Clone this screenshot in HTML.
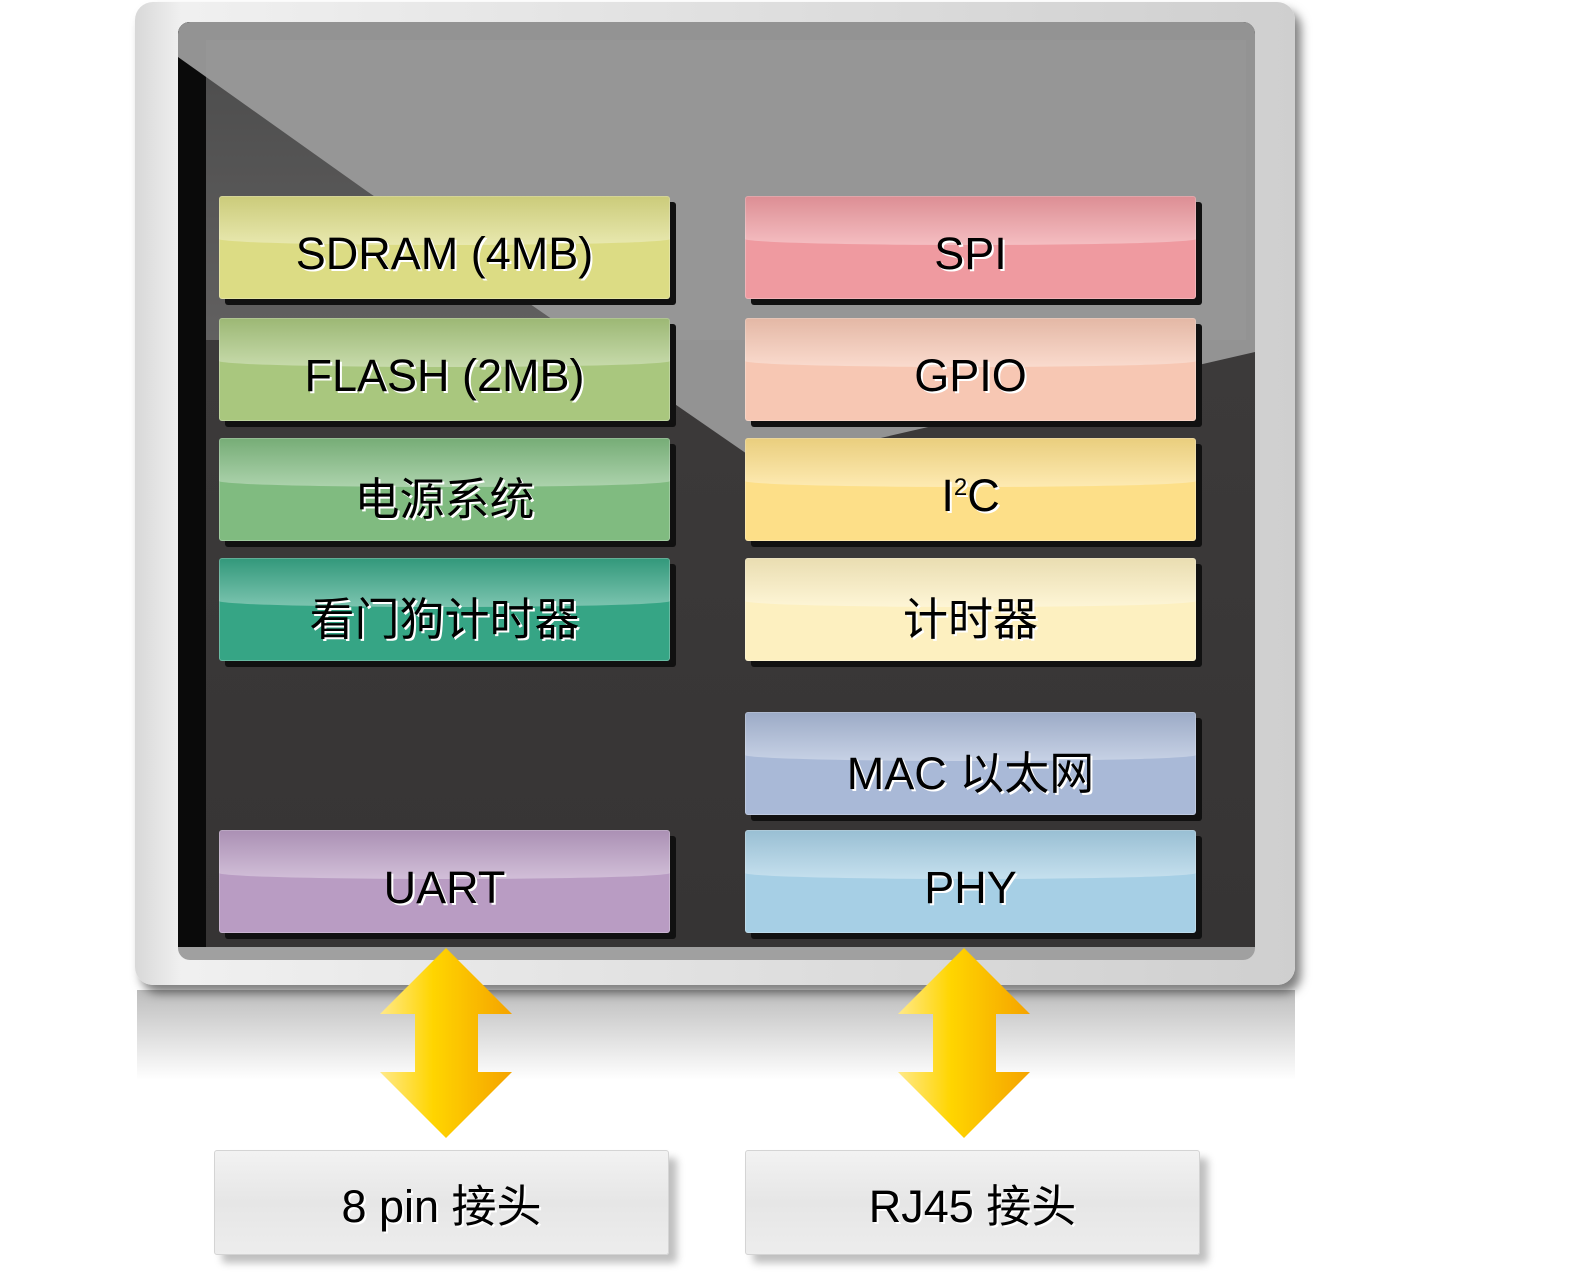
<!DOCTYPE html>
<html><head><meta charset="utf-8"><style>
body{margin:0;width:1586px;height:1288px;background:#fff;position:relative;overflow:hidden;font-family:"Liberation Sans","Noto Sans CJK SC",sans-serif}
.a{position:absolute}
.bx{position:absolute;height:103px;width:451px;border-radius:3px;box-shadow:6px 6px 0 #111,0 0 0 1px rgba(255,255,255,.25) inset;display:flex;align-items:center;justify-content:center;font-size:45px;color:#000;text-shadow:2px 2px 0 #fff;overflow:hidden}
.bx::before{content:"";position:absolute;left:0;right:0;top:0;height:48%;background:linear-gradient(rgba(0,0,0,.08),rgba(255,255,255,.35));border-bottom-left-radius:50% 6px;border-bottom-right-radius:50% 6px}
.bx span{position:relative;top:6px}
.cn{position:absolute;width:453px;height:103px;background:linear-gradient(#f2f2f2,#e6e6e6 50%,#ededed);border:1px solid #d4d4d4;border-radius:3px;box-shadow:8px 8px 8px rgba(0,0,0,.25);display:flex;align-items:center;justify-content:center;font-size:45px;text-shadow:2px 2px 0 #fff}
</style></head><body>
<div class="a" style="left:137px;top:990px;width:1158px;height:90px;background:linear-gradient(#bdbdbd,#fff)"></div>
<div class="a" style="left:135px;top:2px;width:1160px;height:983px;border-radius:18px;background:linear-gradient(90deg,#d8d8d8,#f0f0f0 4%,#e0e0e0 50%,#cfcfcf);box-shadow:6px 8px 10px rgba(0,0,0,.5)"></div>
<div class="a" style="left:178px;top:22px;width:1077px;height:938px;border-radius:12px;background:#a0a0a0;overflow:hidden">
<svg width="1077" height="938" style="position:absolute;left:0;top:0">
<defs><linearGradient id="w" x1="0" y1="0" x2="0" y2="1"><stop offset="0" stop-color="#151515"/><stop offset=".35" stop-color="#3c3a3a"/><stop offset="1" stop-color="#363434"/></linearGradient></defs>
<rect x="0" y="0" width="1077" height="925" fill="url(#w)"/>
<rect x="0" y="0" width="28" height="925" fill="#0a0a0a"/>
<polygon points="0,35 190,170 585,443 1077,330 1077,0 0,0" fill="#939393"/>
<rect x="28" y="18" width="1040" height="300" fill="#9a9a9a" opacity=".4"/>
</svg></div>
<div class="bx" style="left:219px;top:196px;background:#dcdc84"><span>SDRAM (4MB)</span></div>
<div class="bx" style="left:219px;top:318px;background:#a9c77e"><span>FLASH (2MB)</span></div>
<div class="bx" style="left:219px;top:438px;background:#80bb80"><span>电源系统</span></div>
<div class="bx" style="left:219px;top:558px;background:#36a585"><span>看门狗计时器</span></div>
<div class="bx" style="left:219px;top:830px;background:#b99cc3"><span>UART</span></div>
<div class="bx" style="left:745px;top:196px;background:#ef9aa0"><span>SPI</span></div>
<div class="bx" style="left:745px;top:318px;background:#f7c7b3"><span>GPIO</span></div>
<div class="bx" style="left:745px;top:438px;background:#fddf88"><span>I<sup style="font-size:24px">2</sup>C</span></div>
<div class="bx" style="left:745px;top:558px;background:#fdf0c0"><span>计时器</span></div>
<div class="bx" style="left:745px;top:712px;background:#a9b9d7"><span>MAC 以太网</span></div>
<div class="bx" style="left:745px;top:830px;background:#a6cfe5"><span>PHY</span></div>
<svg class="a" style="left:0;top:0" width="1586" height="1288">
<defs><linearGradient id="g" x1="0" x2="1"><stop offset="0" stop-color="#ffe98a"/><stop offset=".4" stop-color="#ffd500"/><stop offset="1" stop-color="#f5a300"/></linearGradient></defs>
<polygon points="446,948 512,1014 478,1014 478,1072 512,1072 446,1138 380,1072 415,1072 415,1014 380,1014" fill="url(#g)"/>
<polygon points="964,948 1030,1014 996,1014 996,1072 1030,1072 964,1138 898,1072 933,1072 933,1014 898,1014" fill="url(#g)"/>
</svg>
<div class="cn" style="left:214px;top:1150px">8 pin 接头</div>
<div class="cn" style="left:745px;top:1150px">RJ45 接头</div>
</body></html>
